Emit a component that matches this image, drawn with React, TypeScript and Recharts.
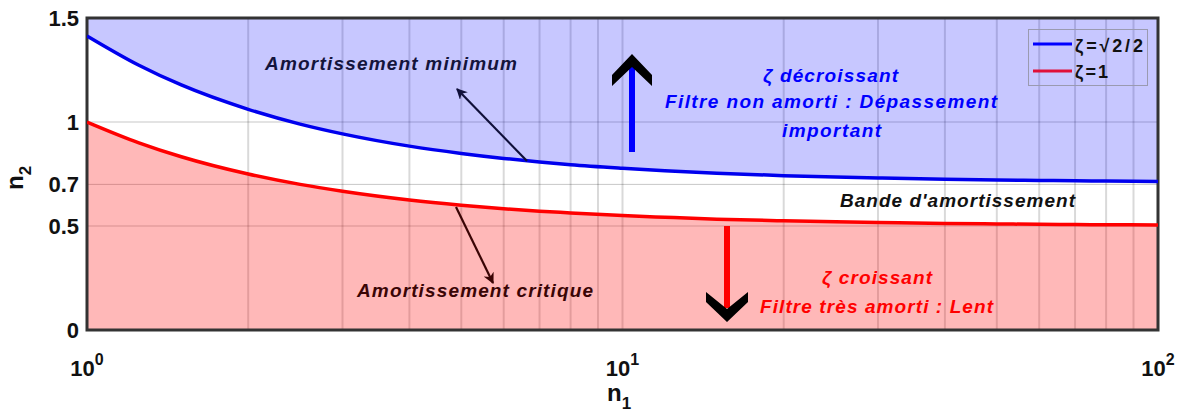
import React from "react";
import {
  ComposedChart,
  Area,
  Line,
  XAxis,
  YAxis,
  CartesianGrid,
  ReferenceArea,
} from "recharts";

// n1 sample points (log axis) and n2 values
const N1 = [1, 1.25, 1.5, 2, 2.5, 3, 4, 5, 6, 7, 8, 10, 12, 15, 20, 25, 30, 40, 50, 60, 70, 80, 100];
const N2_SQRT2 = [1.414, 1.273, 1.178, 1.061, 0.99, 0.943, 0.884, 0.849, 0.825, 0.808, 0.795, 0.778, 0.766, 0.754, 0.742, 0.735, 0.731, 0.725, 0.721, 0.719, 0.717, 0.716, 0.714];
const N2_ONE = [1.0, 0.9, 0.833, 0.75, 0.7, 0.667, 0.625, 0.6, 0.583, 0.571, 0.563, 0.55, 0.542, 0.533, 0.525, 0.52, 0.517, 0.512, 0.51, 0.508, 0.507, 0.506, 0.505];

const X_TICKS = [1, 2, 3, 4, 5, 6, 7, 8, 9, 10, 20, 30, 40, 50, 60, 70, 80, 90, 100];
const X_DECADES: Record<number, string> = { 1: "0", 10: "1", 100: "2" };
const Y_TICKS = [0, 0.5, 0.7, 1, 1.5];
const Y_MAX = 1.5;

const SERIES_LABELS = ["ζ=√2/2", "ζ=1"];
const SERIES_COLORS = ["#0000ff", "#e0103a"];

const FONT = "'Liberation Sans', Arial, sans-serif";

const rows = N1.map((n1, i) => ({
  n1,
  blue: N2_SQRT2[i],
  red: N2_ONE[i],
  upper: [N2_SQRT2[i], Y_MAX],
  lower: [0, N2_ONE[i]],
}));

function DecadeTick(props: any) {
  const { x, y, payload } = props;
  const exp = X_DECADES[payload.value];
  if (exp === undefined) return null;
  return (
    <text
      x={x}
      y={y + 38}
      textAnchor="middle"
      fontFamily={FONT}
      fontWeight={700}
      fontSize={22}
      fill="#111"
    >
      <tspan>10</tspan>
      <tspan dy={-11} fontSize={16}>
        {exp}
      </tspan>
    </text>
  );
}

function Annotations() {
  const italic = {
    fontFamily: FONT,
    fontWeight: 700,
    fontStyle: "italic" as const,
    fontSize: 19,
    lengthAdjust: "spacing" as const,
  };
  return (
    <svg
      width={1186}
      height={414}
      style={{ position: "absolute", left: 0, top: 0, pointerEvents: "none" }}
    >
      <defs>
        <marker id="headNavy" viewBox="0 0 10 10" refX="9" refY="5" markerWidth="5" markerHeight="5" orient="auto">
          <path d="M0,0 L10,5 L0,10 L3,5 z" fill="#10103a" />
        </marker>
        <marker id="headMaroon" viewBox="0 0 10 10" refX="9" refY="5" markerWidth="5" markerHeight="5" orient="auto">
          <path d="M0,0 L10,5 L0,10 L3,5 z" fill="#3a0505" />
        </marker>
      </defs>

      {/* axis titles */}
      <text x={607} y={401} fontFamily={FONT} fontWeight={700} fontSize={24} fill="#111">
        n<tspan dy={8} fontSize={17}>1</tspan>
      </text>
      <text
        transform="translate(23,190) rotate(-90)"
        fontFamily={FONT}
        fontWeight={700}
        fontSize={24}
        fill="#111"
      >
        n<tspan dy={8} fontSize={17}>2</tspan>
      </text>

      {/* minimum damping note */}
      <text x={265} y={70} textLength={252} fill="#14143c" {...italic}>
        Amortissement minimum
      </text>
      <line x1={527} y1={161} x2={457} y2={89} stroke="#10103a" strokeWidth={2.2} markerEnd="url(#headNavy)" />

      {/* critical damping note */}
      <text x={357} y={297} textLength={236} fill="#3a0505" {...italic}>
        Amortissement critique
      </text>
      <line x1={456} y1={207} x2={493} y2={283} stroke="#3a0505" strokeWidth={2.2} markerEnd="url(#headMaroon)" />

      {/* decreasing zeta */}
      <line x1={632} y1={152} x2={632} y2={66} stroke="#0000ff" strokeWidth={6} />
      <polygon points="632,54 652,75 652,86 632,67 612,86 612,75" fill="#000" />
      <text x={763} y={82} textLength={135} fill="#0000ff" {...italic}>
        ζ décroissant
      </text>
      <text x={665} y={108} textLength={332} fill="#0000ff" {...italic}>
        Filtre non amorti :  Dépassement
      </text>
      <text x={782} y={137} textLength={99} fill="#0000ff" {...italic}>
        important
      </text>

      {/* band */}
      <text x={840} y={207} textLength={235} fill="#111" {...italic}>
        Bande d'amortissement
      </text>

      {/* increasing zeta */}
      <line x1={727} y1={226} x2={727} y2={308} stroke="#ff0000" strokeWidth={6} />
      <polygon points="727,322 706,302 706,292 727,309 748,292 748,302" fill="#000" />
      <text x={822} y={284} textLength={110} fill="#ff0000" {...italic}>
        ζ croissant
      </text>
      <text x={760} y={313} textLength={233} fill="#ff0000" {...italic}>
        Filtre très amorti : Lent
      </text>

      {/* legend */}
      <rect x={1028.5} y={29.5} width={119} height={56} fill="none" stroke="#9a9ab0" strokeWidth={1} />
      {SERIES_LABELS.map((label, i) => (
        <g key={label}>
          <line x1={1033} x2={1072} y1={44 + i * 27} y2={44 + i * 27} stroke={SERIES_COLORS[i]} strokeWidth={3} />
          <text
            x={1075}
            y={52 + i * 26}
            textLength={i === 0 ? 68 : 33}
            lengthAdjust="spacing"
            fontFamily={FONT}
            fontWeight={700}
            fontSize={18}
            fill="#111"
          >
            {label}
          </text>
        </g>
      ))}
    </svg>
  );
}

export default function App() {
  return (
    <div style={{ position: "absolute", left: 0, top: 0, width: 1186, height: 414, background: "#fff" }}>
      <ComposedChart
        width={1186}
        height={414}
        data={rows}
        margin={{ top: 18, right: 28, bottom: 0, left: 0 }}
      >
        <CartesianGrid horizontal={false} stroke="#000" strokeOpacity={0.15} strokeWidth={2} />
        <CartesianGrid vertical={false} stroke="#000" strokeOpacity={0.22} strokeWidth={1} />
        <XAxis
          dataKey="n1"
          type="number"
          scale="log"
          domain={[1, 100]}
          ticks={X_TICKS}
          interval={0}
          allowDataOverflow
          tickLine={false}
          axisLine={false}
          height={84}
          tick={<DecadeTick />}
        />
        <YAxis
          type="number"
          domain={[0, Y_MAX]}
          ticks={Y_TICKS}
          interval={0}
          width={87}
          tickLine={false}
          axisLine={false}
          tickSize={0}
          tickMargin={8}
          tick={{ fontSize: 22, fontWeight: 700, fill: "#111", fontFamily: FONT }}
        />
        <Area
          dataKey="upper"
          type="monotone"
          fill="#0000ff"
          fillOpacity={0.22}
          stroke="none"
          isAnimationActive={false}
        />
        <Area
          dataKey="lower"
          type="monotone"
          fill="#ff0000"
          fillOpacity={0.28}
          stroke="none"
          isAnimationActive={false}
        />
        <Line dataKey="blue" type="monotone" stroke="#0000ee" strokeWidth={3.5} dot={false} isAnimationActive={false} />
        <Line dataKey="red" type="monotone" stroke="#ff0000" strokeWidth={3.5} dot={false} isAnimationActive={false} />
        <ReferenceArea x1={1} x2={100} y1={0} y2={Y_MAX} fill="none" stroke="#333" strokeWidth={3} ifOverflow="visible" />
      </ComposedChart>
      <Annotations />
    </div>
  );
}
